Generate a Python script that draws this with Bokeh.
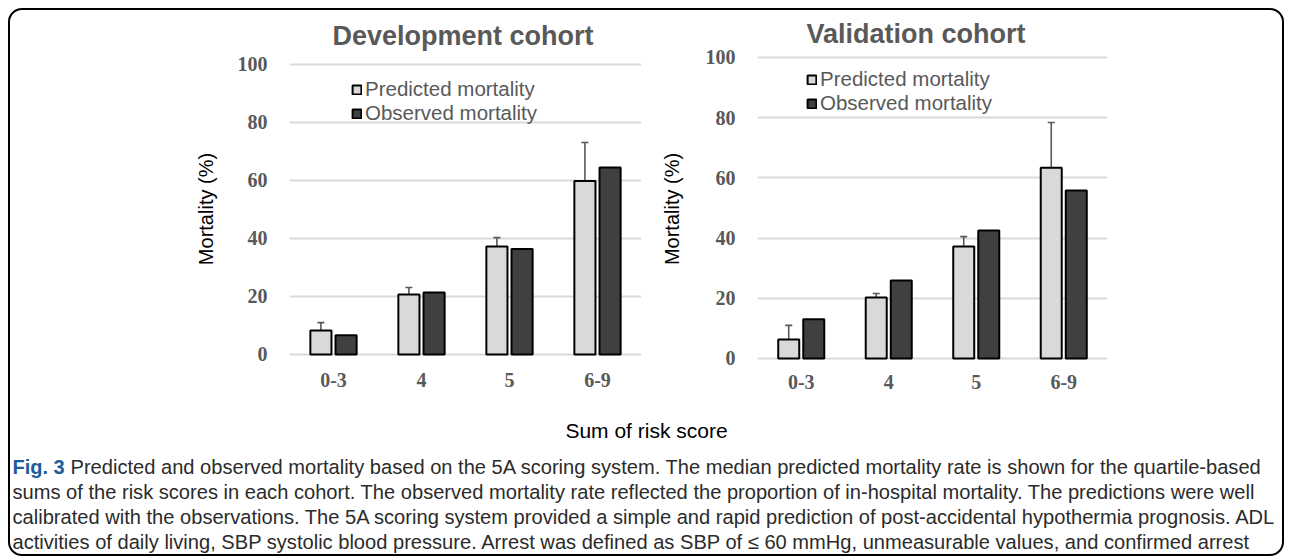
from bokeh.plotting import figure
from bokeh.models import (ColumnDataSource, FactorRange, Range1d, FixedTicker, Whisker,
                          TeeHead, Legend, LegendItem)
from bokeh.transform import dodge
from bokeh.layouts import row, column
from bokeh.embed import file_html
from bokeh.resources import INLINE
from bokeh.core.properties import value

categories = ["0-3", "4", "5", "6-9"]

dev_pred = [8.3, 20.7, 37.2, 59.8]
dev_pred_lo = [5.0, 18.3, 33.8, 55.5]
dev_pred_hi = [11.0, 23.1, 40.3, 73.1]
dev_obs = [6.6, 21.4, 36.4, 64.5]

val_pred = [6.3, 20.3, 37.2, 63.4]
val_pred_lo = [3.7, 18.6, 33.5, 56.1]
val_pred_hi = [11.0, 21.6, 40.5, 78.4]
val_obs = [13.0, 25.9, 42.5, 55.8]

y_ticks = [0, 20, 40, 60, 80, 100]
titles = ["Development cohort", "Validation cohort"]
legend_labels = ["Predicted mortality", "Observed mortality"]
y_label = "Mortality (%)"
x_label = "Sum of risk score"
caption_lead = "Fig. 3"
caption_lines = [
    "Predicted and observed mortality based on the 5A scoring system. The median predicted mortality rate is shown for the quartile-based",
    "sums of the risk scores in each cohort. The observed mortality rate reflected the proportion of in-hospital mortality. The predictions were well",
    "calibrated with the observations. The 5A scoring system provided a simple and rapid prediction of post-accidental hypothermia prognosis. ADL",
    "activities of daily living, SBP systolic blood pressure. Arrest was defined as SBP of \u2264 60 mmHg, unmeasurable values, and confirmed arrest",
]

GRAY = "#595959"
SANS = "Liberation Sans"
SERIF = "Liberation Serif"


def make_chart(title, pred, lo, hi, obs, width, bl, br, yr, leg_xy,
               t_off, t_standoff, y_standoff, x_standoff):
    src = ColumnDataSource(dict(cat=categories, pred=pred, lo=lo, hi=hi, obs=obs))
    p = figure(x_range=FactorRange(*categories, range_padding=0),
               y_range=Range1d(*yr),
               width=width, height=398, min_border_left=bl, min_border_right=br,
               min_border_top=45, min_border_bottom=46,
               output_backend="svg", toolbar_location=None, title=title)
    p.outline_line_color = None
    p.background_fill_color = "white"
    p.border_fill_color = "white"
    p.border_fill_alpha = 0

    r1 = p.vbar(x=dodge("cat", -0.143, range=p.x_range), top="pred", width=0.24, source=src,
                fill_color="#d9d9d9", line_color="black", line_width=2)
    r2 = p.vbar(x=dodge("cat", 0.143, range=p.x_range), top="obs", width=0.24, source=src,
                fill_color="#404040", line_color="black", line_width=2)
    w = Whisker(base=dodge("cat", -0.143, range=p.x_range), upper="hi", lower="lo", source=src,
                line_color=GRAY, line_width=1.6,
                upper_head=TeeHead(size=7, line_color=GRAY, line_width=1.6),
                lower_head=TeeHead(size=7, line_color=GRAY, line_width=1.6))
    p.add_layout(w)

    p.title.align = "left"
    p.title.offset = t_off
    p.title.standoff = t_standoff
    p.title.text_font = SANS
    p.title.text_font_size = "27px"
    p.title.text_font_style = "bold"
    p.title.text_color = GRAY

    p.xgrid.grid_line_color = None
    p.ygrid.grid_line_color = "#d9d9d9"
    p.ygrid.grid_line_width = 2
    p.yaxis.ticker = FixedTicker(ticks=y_ticks)

    for ax in (p.xaxis, p.yaxis):
        ax.axis_line_color = None
        ax.major_tick_line_color = None
        ax.minor_tick_line_color = None
        ax.major_tick_out = 0
        ax.major_tick_in = 0
        ax.minor_tick_out = 0
        ax.minor_tick_in = 0
        ax.major_label_text_font = SERIF
        ax.major_label_text_font_style = "bold"
        ax.major_label_text_font_size = "20px"
        ax.major_label_text_color = GRAY
    p.xaxis.major_label_standoff = x_standoff
    p.yaxis.major_label_standoff = 22
    p.yaxis.axis_label = y_label
    p.yaxis.axis_label_text_font = SANS
    p.yaxis.axis_label_text_font_style = "normal"
    p.yaxis.axis_label_text_font_size = "20px"
    p.yaxis.axis_label_text_color = "black"
    p.yaxis.axis_label_standoff = y_standoff

    leg = Legend(items=[LegendItem(label=legend_labels[0], renderers=[r1]),
                        LegendItem(label=legend_labels[1], renderers=[r2])],
                 location=leg_xy, orientation="vertical",
                 glyph_width=11, glyph_height=11, label_standoff=3, spacing=0,
                 padding=0, margin=0, border_line_color=None, background_fill_alpha=0,
                 label_text_font=SANS, label_text_font_size="20.5px", label_text_color=GRAY,
                 label_height=20)
    p.add_layout(leg)
    return p


left = make_chart(titles[0], dev_pred, dev_pred_lo, dev_pred_hi, dev_obs,
                  647, 279, 16, (-2.76, 103.10), (62, 237), 43, 9, 18, 10)
right = make_chart(titles[1], val_pred, val_pred_lo, val_pred_hi, val_obs,
                   625, 98, 175, (-1.33, 100.66), (49, 247), 49, 13, 20, 12)

# bottom text panel
bw, bh = 1272, 146
b = figure(width=bw, height=bh, x_range=Range1d(0, bw), y_range=Range1d(bh, 0),
           min_border=0, output_backend="svg", toolbar_location=None)
b.axis.visible = False
b.grid.visible = False
b.outline_line_color = None
b.background_fill_alpha = 0
b.border_fill_alpha = 0
b.text(x=[636], y=[22], text=[x_label], text_font=value(SANS), text_font_size="21px",
       text_color="black", text_align="center", text_baseline="middle")

cap_font = SANS
b.text(x=[2], y=[58], text=[caption_lead], text_font=value(cap_font), text_font_size="20px",
       text_font_style="bold", text_color="#1c5d99", text_baseline="middle")
xs = [60, 2, 2, 2]
ys = [58, 83, 108, 133]
b.text(x=xs, y=ys, text=caption_lines, text_font=value(cap_font), text_font_size="20.1px",
       text_color="#2b2b2b", text_baseline="middle")

layout = column(row(left, right), b, margin=(8, 8, 0, 8),
                styles={"border": "2px solid black", "border-radius": "14px",
                        "box-sizing": "content-box"})

open("out.html", "w").write(file_html(layout, INLINE))
